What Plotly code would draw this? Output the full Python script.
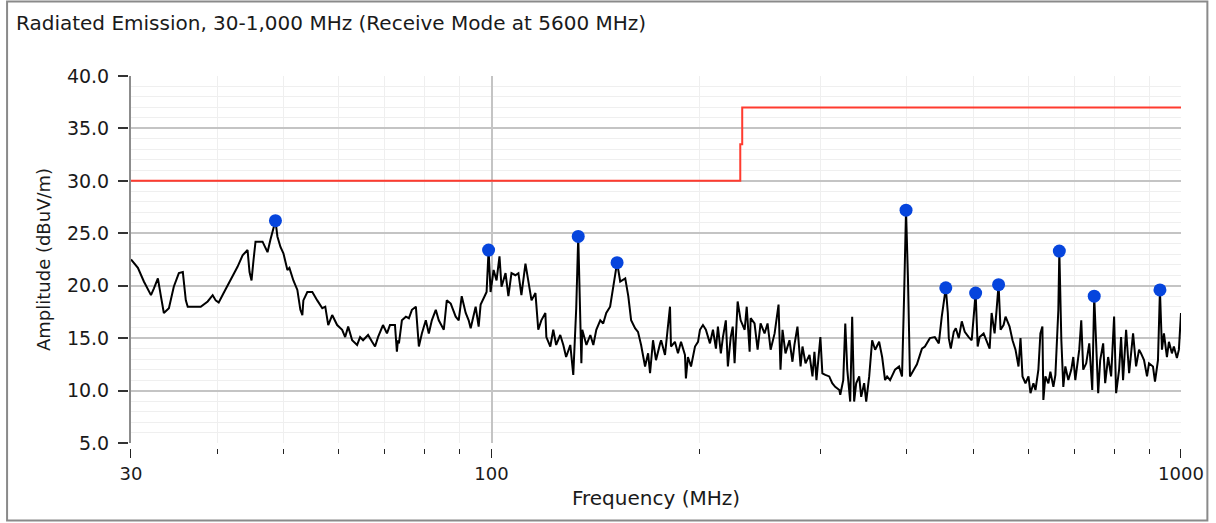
import plotly.graph_objects as go

# ---- data ----
freq_mhz = [
    30.0, 30.7, 31.32, 32.07, 32.39, 32.82, 33.15, 33.48, 34.05, 34.61, 35.2, 35.67, 36.03, 36.26, 37.0,
    37.87, 38.76, 39.41, 39.81, 40.21, 40.88, 41.84, 42.82, 43.55, 44.28, 44.57, 44.87, 45.17, 45.47,
    46.55, 47.33, 47.8, 48.6, 48.92, 49.42, 49.91, 50.58, 50.92, 51.6, 52.29, 52.82, 53.17, 53.35,
    54.06, 54.97, 55.88, 56.83, 57.4, 57.97, 58.74, 59.72, 60.73, 61.34, 61.96, 62.79, 63.84, 64.48,
    65.12, 66.22, 67.11, 67.78, 68.46, 69.6, 70.53, 71.24, 72.44, 72.91, 73.16, 73.41, 74.14, 75.13,
    75.89, 76.66, 77.68, 78.46, 79.25, 80.3, 81.11, 81.93, 83.02, 83.85, 85.27, 86.12, 87.27, 88.73,
    89.63, 90.53, 91.74, 92.66, 93.28, 94.84, 95.8, 96.43, 97.72, 98.37, 99.03, 99.69, 100.7, 101.7,
    102.7, 103.4, 104.8, 105.8, 106.9, 108.3, 109.4, 110.5, 112.0, 113.1, 114.3, 115.8, 116.9, 118.1,
    119.7, 120.1, 121.7, 122.9, 124.1, 125.8, 127.1, 128.3, 130.1, 131.4, 132.3, 132.7, 133.6, 134.5,
    135.0, 135.4, 137.3, 139.1, 140.5, 141.9, 143.8, 145.2, 146.7, 148.6, 150.1, 152.1, 153.7, 156.3,
    157.9, 159.4, 161.5, 163.1, 164.8, 167.0, 168.7, 169.8, 171.5, 173.2, 175.6, 176.2, 178.5, 180.3,
    181.5, 182.1, 184.5, 186.4, 188.3, 190.8, 191.4, 192.7, 194.7, 197.3, 199.3, 200.6, 202.6, 204.6,
    207.4, 209.5, 211.6, 213.0, 215.1, 216.6, 218.7, 220.2, 222.3, 223.8, 225.2, 227.5, 229.8, 232.9,
    234.5, 236.8, 237.6, 240.7, 243.2, 245.6, 248.9, 251.4, 254.0, 257.4, 260.8, 262.5, 264.3, 266.9,
    270.5, 273.2, 275.0, 277.8, 280.7, 282.5, 285.4, 289.2, 292.1, 294.0, 296.0, 299.9, 301.9, 304.9,
    308.9, 312.0, 315.1, 319.5, 320.5, 323.7, 325.9, 328.1, 331.3, 333.5, 335.7, 338.0, 341.4, 343.7,
    347.1, 349.5, 353.0, 356.5, 360.1, 364.9, 368.6, 372.2, 374.8, 378.5, 384.8, 390.0, 393.9, 396.5,
    399.2, 401.8, 404.5, 409.9, 414.0, 418.2, 421.0, 425.2, 432.3, 439.5, 445.4, 449.8, 452.8, 455.9,
    459.0, 460.5, 463.6, 468.2, 471.4, 476.1, 480.9, 485.7, 492.1, 497.1, 500.4, 503.7, 507.1, 510.5,
    517.3, 522.5, 527.8, 531.3, 536.6, 540.2, 543.8, 547.4, 552.9, 556.6, 564.1, 569.7, 575.4, 581.2,
    585.1, 589.0, 594.9, 600.9, 604.9, 610.9, 615.1, 621.1, 625.3, 629.5, 631.5, 635.8, 642.2, 646.5,
    653.0, 657.4, 663.9, 666.1, 670.6, 675.0, 679.6, 686.4, 693.3, 697.9, 702.6, 711.9, 716.7, 721.4,
    728.7, 736.1, 743.5, 748.4, 753.4, 758.4, 763.5, 771.1, 776.3, 784.0, 791.9, 799.8, 805.2, 813.3,
    818.7, 824.1, 832.5, 840.9, 846.5, 852.1, 860.7, 869.3, 875.1, 883.8, 892.7, 898.7, 910.6, 916.8,
    926.0, 929.1, 932.1, 938.4, 944.6, 954.1, 960.5, 970.1, 976.5, 986.4, 993.0, 1000.0,
]
amplitude_dbuvm = [
    22.5, 21.7, 20.4, 19.1, 19.75, 20.7, 19.0, 17.4, 17.85, 19.9, 21.2, 21.3, 18.6, 18.0, 18.0,
    18.0, 18.5, 19.1, 18.6, 18.4, 19.3, 20.5, 21.8, 22.9, 23.4, 21.3, 20.5, 22.45, 24.2,
    24.2, 23.2, 24.4, 26.2, 24.7, 23.7, 23.1, 21.5, 21.7, 20.5, 19.6, 17.7, 17.2, 18.6,
    19.4, 19.4, 18.6, 17.85, 18.0, 16.25, 17.2, 16.25, 15.8, 15.1, 16.1, 14.8, 14.35, 15.1,
    14.8, 15.3, 14.65, 14.2, 15.1, 16.25, 15.45, 16.25, 16.25, 13.7, 14.8, 14.5, 16.7, 17.05,
    16.9, 17.7, 18.0, 14.2, 15.45, 16.7, 15.45, 16.7, 17.7, 16.7, 15.8, 18.6, 18.3, 17.05,
    16.7, 19.0, 17.4, 16.7, 15.95, 18.0, 16.1, 18.2, 19.0, 19.4, 23.4, 19.4, 21.5, 20.5,
    22.8, 19.9, 21.2, 19.0, 21.2, 21.0, 21.2, 19.1, 22.1, 20.2, 18.6, 19.3, 15.8, 16.7,
    17.4, 15.1, 14.2, 15.8, 14.35, 15.3, 14.35, 13.2, 14.35, 11.5, 15.3, 17.85, 24.7, 15.8,
    12.6, 15.8, 14.35, 15.3, 14.35, 15.8, 16.7, 16.4, 17.4, 18.0, 19.9, 22.2, 20.4, 20.7,
    19.0, 16.7, 15.95, 15.6, 14.35, 12.3, 13.55, 11.65, 14.8, 12.9, 14.5, 14.8, 13.4, 16.1,
    18.0, 14.2, 14.65, 13.55, 14.65, 13.4, 11.15, 13.2, 12.3, 14.2, 14.65, 15.8, 16.25, 15.8,
    14.5, 15.8, 14.0, 16.1, 13.55, 15.1, 16.7, 12.3, 15.1, 16.1, 12.6, 18.5, 16.7, 15.8,
    18.0, 13.7, 16.9, 16.4, 13.9, 16.4, 15.45, 16.4, 13.9, 15.45, 18.2, 12.0, 15.8, 13.55,
    14.8, 12.75, 14.35, 16.1, 12.3, 14.2, 12.6, 13.4, 11.35, 13.7, 11.0, 15.1, 11.65, 11.5,
    11.35, 10.7, 10.35, 10.05, 9.6, 11.0, 16.4, 12.0, 8.95, 17.05, 8.95, 10.7, 11.35, 9.4,
    10.7, 8.95, 11.35, 14.8, 13.9, 14.65, 13.2, 11.0, 11.35, 11.0, 12.0, 12.3, 11.35, 18.6,
    27.2, 20.7, 11.35, 12.0, 12.5, 13.4, 14.0, 14.2, 15.0, 15.1, 14.5, 17.05, 18.3, 19.8,
    17.4, 15.0, 14.0, 15.6, 15.95, 15.0, 16.6, 15.6, 15.1, 14.8, 17.05, 19.3, 14.2, 15.1,
    15.45, 14.8, 14.0, 17.4, 15.45, 17.7, 20.1, 15.8, 16.25, 17.05, 16.1, 14.8, 13.9, 12.3,
    15.0, 11.35, 10.7, 11.35, 9.75, 10.7, 10.05, 12.0, 15.45, 16.1, 9.1, 11.35, 10.7, 11.8,
    10.35, 11.5, 17.7, 23.3, 14.8, 10.35, 12.3, 11.0, 12.0, 13.2, 11.0, 13.9, 16.7, 12.0,
    12.6, 14.5, 10.05, 19.0, 13.9, 9.75, 12.9, 14.5, 10.7, 13.2, 11.35, 17.05, 9.75, 12.0,
    15.1, 11.0, 15.8, 11.65, 13.55, 15.45, 12.3, 13.9, 13.55, 12.9, 11.35, 12.6, 12.3, 10.85,
    12.9, 17.85, 19.6, 13.9, 15.45, 13.2, 14.65, 13.55, 14.2, 13.1, 13.9, 17.4,
]

limit_freq_mhz = [30, 229.5, 229.5, 231, 231, 1000]
limit_dbuvm = [30, 30, 33.5, 33.5, 37, 37]

peak_freq_mhz = [48.6, 99.03, 133.6, 152.1, 399.2, 455.9, 503.7, 543.8, 666.1, 748.4, 932.1]
peak_dbuvm = [26.2, 23.4, 24.7, 22.2, 27.2, 19.8, 19.3, 20.1, 23.3, 19.0, 19.6]

x_major_ticks = [30, 100, 1000]
x_minor_ticks = [40, 50, 60, 70, 80, 90, 200, 300, 400, 500, 600, 700, 800, 900]
x_grid_major = [100]
y_ticks = [5, 10, 15, 20, 25, 30, 35, 40]
y_grid = [10, 15, 20, 25, 30, 35, 40]

FONT = "DejaVu Sans"
TXT = "#1a1a1a"

fig = go.Figure()
# empty helper trace so the grid-only overlay axes are rendered
fig.add_trace(go.Scatter(x=[], y=[], xaxis="x2", yaxis="y2", mode="lines",
                         showlegend=False, hoverinfo="skip"))
fig.add_trace(go.Scatter(x=limit_freq_mhz, y=limit_dbuvm, mode="lines",
                         line=dict(color="#ff3b2f", width=2), showlegend=False, hoverinfo="skip"))
fig.add_trace(go.Scatter(x=freq_mhz, y=amplitude_dbuvm, mode="lines",
                         line=dict(color="#000000", width=2), showlegend=False))
fig.add_trace(go.Scatter(x=peak_freq_mhz, y=peak_dbuvm, mode="markers",
                         marker=dict(color="#0645dd", size=13, line=dict(width=0)), showlegend=False))

W, H = 1216, 523
L, R, T, B = 128, 30, 76, 75
pw, ph = W - L - R, H - T - B

fig.update_layout(
    width=W, height=H, autosize=False,
    margin=dict(l=L, r=R, t=T, b=B, pad=0),
    paper_bgcolor="white", plot_bgcolor="white",
    font=dict(family=FONT, size=18, color=TXT),
    title=dict(text="Radiated Emission, 30-1,000 MHz (Receive Mode at 5600 MHz)",
               x=16 / W, xanchor="left", xref="container",
               y=1 - 23 / H, yanchor="middle", yref="container",
               font=dict(family=FONT, size=20, color=TXT)),
    xaxis=dict(type="log", range=[1.4771213, 3.0], domain=[3 / pw, 1],
               anchor="free", position=0,
               tickmode="array", tickvals=x_major_ticks, ticktext=[str(v) for v in x_major_ticks],
               ticks="outside", ticklen=9, tickwidth=1.3, tickcolor="#222",
               tickfont=dict(size=18),
               showgrid=False, showline=False, zeroline=False,
               ticklabelstandoff=0,
               minor=dict(tickmode="array", tickvals=x_minor_ticks, ticks="outside", ticklen=5,
                          tickwidth=1.3, tickcolor="#222", showgrid=True,
                          gridcolor="#efefef", gridwidth=1),
               title=dict(text="Frequency (MHz)", standoff=8, font=dict(size=20, color=TXT))),
    xaxis2=dict(type="log", range=[1.4771213, 3.0], domain=[3 / pw, 1], overlaying="x", anchor="y2",
                tickmode="array", tickvals=x_grid_major, showticklabels=False, ticks="",
                showgrid=True, gridcolor="#c4c4c4", gridwidth=1.5, showline=False, zeroline=False),
    yaxis=dict(range=[5, 40], domain=[5 / ph, 1], anchor="free", position=0,
               tickmode="array", tickvals=y_ticks, tickformat=".1f",
               ticks="outside", ticklen=10, tickwidth=2, tickcolor="#333",
               tickfont=dict(size=19),
               showgrid=False, showline=False, zeroline=False,
               ticklabelstandoff=5,
               minor=dict(dtick=1, tick0=0, ticks="", showgrid=True, gridcolor="#efefef", gridwidth=1),
               title=dict(text="Amplitude (dBuV/m)", standoff=10, font=dict(size=18, color=TXT))),
    yaxis2=dict(range=[5, 40], domain=[5 / ph, 1], overlaying="y", anchor="x2",
                tickmode="array", tickvals=y_grid, showticklabels=False, ticks="",
                showgrid=True, gridcolor="#c4c4c4", gridwidth=1.5,
                showline=True, linecolor="#8c8c8c", linewidth=2, zeroline=False),
    shapes=[dict(type="rect", xref="paper", yref="paper",
                 x0=(6.5 - L) / pw, x1=(1212.5 - L) / pw,
                 y0=(H - B - 520.5) / ph, y1=(H - B - 1.5) / ph,
                 line=dict(color="#8a8a8a", width=2), fillcolor="rgba(0,0,0,0)", layer="below")],
)

fig.write_html("out.html",
               config={"displayModeBar": False, "responsive": False},
               post_script="document.body.style.margin='0';document.body.style.overflow='hidden';")
